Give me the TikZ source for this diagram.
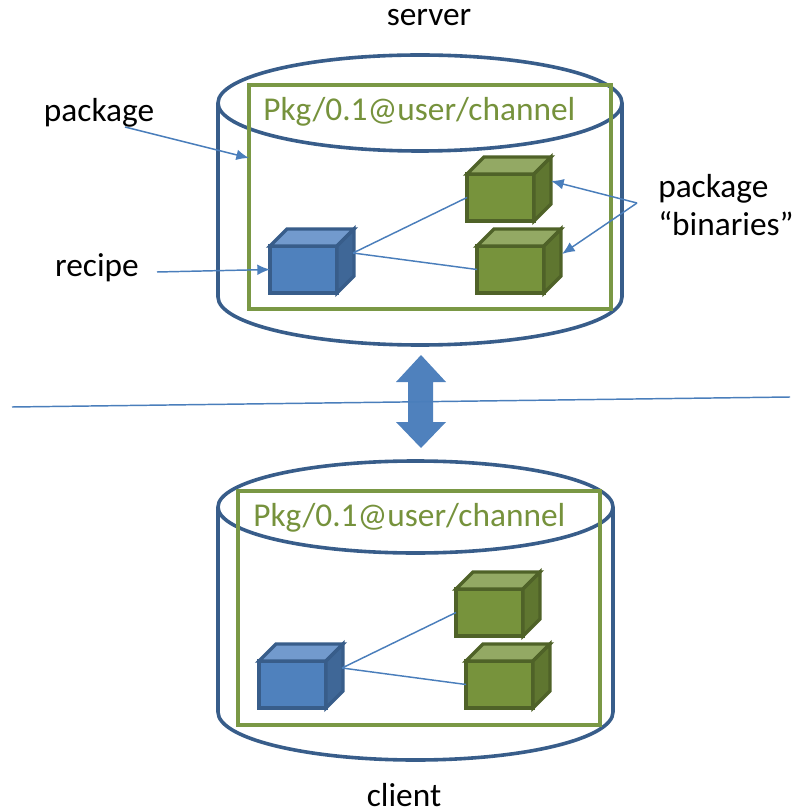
\documentclass[tikz,border=0pt]{standalone}
\usepackage{fontspec}
\setmainfont{Carlito}
\usetikzlibrary{arrows.meta}
\definecolor{glabel}{HTML}{76923C}
\definecolor{gframe}{HTML}{7A9845}
\definecolor{gfront}{HTML}{77933C}
\definecolor{gtop}{HTML}{93A964}
\definecolor{gside}{HTML}{5F7630}
\definecolor{gline}{HTML}{4F6228}
\definecolor{bfront}{HTML}{4F81BD}
\definecolor{btop}{HTML}{729ACD}
\definecolor{bside}{HTML}{3F6797}
\definecolor{bline}{HTML}{385D8A}
\definecolor{wire}{HTML}{4A7EBB}
\tikzset{
  drum/.style = {draw = bline, line width = 2.7pt},
  frame/.style = {draw = gframe, line width = 2.8pt, inner sep = 0pt},
  wireline/.style = {draw = wire, line width = 1.1pt},
  pointer/.style = {wireline, ->, >={Latex[length = 9.5pt, width = 8pt]}},
  caption/.style = {font = \fontsize{25}{29}\selectfont, align = left, inner sep = 0pt},
  pkgname/.style = {font = \fontsize{25}{29}\selectfont, text = glabel, anchor = west, inner sep = 0pt},
  cubeface/.style = {line width = 2.5pt, line join = miter, minimum width = 50.25pt,
    minimum height = 35.25pt, inner sep = 0pt, outer sep = 0pt}
}
% name, position, colour prefix
\newcommand{\cube}[3]{
  \node[cubeface, fill = #3front, draw = #3line] (#1) at (#2) {};
  \draw[line width = 2.5pt, draw = #3line, fill = #3top, line join = miter]
    (#1.north west) -- ++(17, -17) -- ++(67, 0) -- (#1.north east) -- cycle;
  \draw[line width = 2.5pt, draw = #3line, fill = #3side, line join = miter]
    (#1.north east) -- ++(17, -17) -- ++(0, 47) -- (#1.south east) -- cycle;
}
\begin{document}
\begin{tikzpicture}[x = 0.75pt, y = -0.75pt]
\useasboundingbox (0, 0) rectangle (793, 812);
%server
\draw[drum] (420, 103) ellipse [x radius = 202, y radius = 48];
\draw[drum] (218, 103) -- (218, 297) arc [x radius = 202, y radius = 48, start angle = 180, end angle = 0] -- (622, 103);
\node[frame, minimum width = 271.5pt, minimum height = 168pt] (serverframe) at (430, 197) {};
\node[pkgname] (servername) at (263, 112) {Pkg/0.1@user/channel};
\cube{serverrecipe}{303.5, 269.5}{b}
\cube{serverbinone}{500.5, 197.5}{g}
\cube{serverbintwo}{510.5, 269.5}{g}
\coordinate (serverout) at (353, 253);
\draw[wireline] (serverout) -- (serverbinone.west);
\draw[wireline] (serverout) -- (serverbintwo.west);
%client
\draw[drum] (415.5, 507) ellipse [x radius = 197.5, y radius = 46];
\draw[drum] (218, 507) -- (218, 712) arc [x radius = 197.5, y radius = 48, start angle = 180, end angle = 0] -- (613, 507);
\node[frame, minimum width = 271.5pt, minimum height = 175.5pt] (clientframe) at (419, 608) {};
\node[pkgname] (clientname) at (253, 518) {Pkg/0.1@user/channel};
\cube{clientrecipe}{292.5, 684.5}{b}
\cube{clientbinone}{489.5, 612.5}{g}
\cube{clientbintwo}{499.5, 684.5}{g}
\coordinate (clientout) at (342, 668);
\draw[wireline] (clientout) -- (clientbinone.west);
\draw[wireline] (clientout) -- (clientbintwo.west);
%the link
\fill[bfront] (421, 355) -- (446, 382) -- (433, 382) -- (433, 422) -- (446, 422) -- (421, 448)
  -- (396, 422) -- (408, 422) -- (408, 382) -- (396, 382) -- cycle;
\coordinate (lineleft) at (12, 407);
\coordinate (lineright) at (790, 397);
\draw[wireline] (lineleft) -- (lineright);
%labels
\node[caption] (serverlabel) at (429, 18) {server};
\node[caption] (clientlabel) at (404, 795) {client};
\node[caption] (packagelabel) at (99, 113) {package};
\node[caption] (recipelabel) at (97, 268) {recipe};
\node[caption, anchor = west] (binarieslabel) at (658, 205) {package\\``binaries''};
\coordinate (packagetip) at (249, 158);
\coordinate (packagetail) at (125, 127);
\coordinate (recipetail) at (157, 272);
\coordinate (bintail) at (637, 203);
\coordinate (bintipone) at (551, 181);
\coordinate (bintiptwo) at (562, 254);
\draw[pointer] (packagetail) -- (packagetip);
\draw[pointer] (recipetail) -- (serverrecipe.west);
\draw[pointer] (bintail) -- (bintipone);
\draw[pointer] (bintail) -- (bintiptwo);
\end{tikzpicture}
\end{document}
